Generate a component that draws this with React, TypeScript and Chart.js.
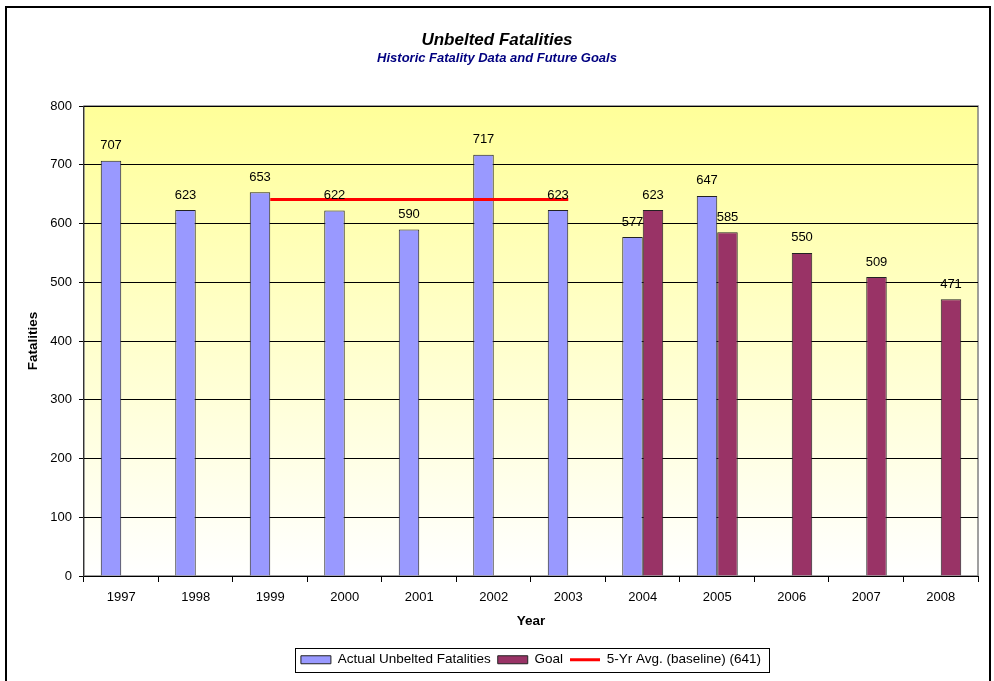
import React, { useEffect, useRef } from "react";
import Chart from "chart.js/auto";

const years = ["1997", "1998", "1999", "2000", "2001", "2002", "2003", "2004", "2005", "2006", "2007", "2008"];
const actualFatalities = [707, 623, 653, 622, 590, 717, 623, 577, 647, null, null, null];
const goalFatalities = [null, null, null, null, null, null, null, 623, 585, 550, 509, 471];
const baselineAvg = [null, null, 641, 641, 641, 641, 641, null, null, null, null, null];
const seriesNames = ["Actual Unbelted Fatalities", "Goal", "5-Yr Avg. (baseline) (641)"];
const yMin = 0;
const yMax = 800;
const yStep = 100;
const titleText = "Unbelted Fatalities";
const subtitleText = "Historic Fatality Data and Future Goals";
const xTitle = "Year";
const yTitle = "Fatalities";

const FONT = '"Liberation Sans", Arial, sans-serif';

const backgroundPlugin = {
  id: "bgPlugin",
  beforeDraw(chart: any) {
    const { ctx, chartArea } = chart;
    const { left, top, right, bottom } = chartArea;
    ctx.save();
    ctx.fillStyle = "#ffffff";
    ctx.fillRect(0, 0, chart.width, chart.height);
    ctx.strokeStyle = "#000000";
    ctx.lineWidth = 2;
    ctx.strokeRect(6, 7, 984, 720);
    const g = ctx.createLinearGradient(0, top, 0, bottom);
    g.addColorStop(0, "#FFFF99");
    g.addColorStop(1, "#FFFFFF");
    ctx.fillStyle = g;
    ctx.fillRect(left, top, right - left, bottom - top);
    ctx.strokeStyle = "#808080";
    ctx.lineWidth = 1.5;
    ctx.strokeRect(left, top, right - left, bottom - top);
    ctx.restore();
  },
};

const valueLabelPlugin = {
  id: "valueLabels",
  afterDatasetsDraw(chart: any) {
    const { ctx } = chart;
    ctx.save();
    ctx.font = `13px ${FONT}`;
    ctx.fillStyle = "#000";
    ctx.textAlign = "center";
    ctx.textBaseline = "middle";
    chart.data.datasets.forEach((ds: any, i: number) => {
      if (ds.type === "line") return;
      const meta = chart.getDatasetMeta(i);
      meta.data.forEach((el: any, j: number) => {
        const v = ds.data[j];
        if (v === null || v === undefined) return;
        ctx.fillText(String(v), el.x, el.y - 15);
      });
    });
    ctx.restore();
  },
};

const legendFramePlugin = {
  id: "legendFrame",
  afterDraw(chart: any) {
    const lg = chart.legend;
    if (!lg || !lg.legendHitBoxes || !lg.legendHitBoxes.length) return;
    const hb = lg.legendHitBoxes;
    const l = Math.min(...hb.map((h: any) => h.left));
    const r = Math.max(...hb.map((h: any) => h.left + h.width));
    const cy = hb[0].top + hb[0].height / 2;
    const { ctx } = chart;
    ctx.save();
    ctx.strokeStyle = "#000";
    ctx.lineWidth = 1;
    ctx.strokeRect(Math.round(l - 6) + 0.5, Math.round(cy - 12) + 0.5, Math.round(r - l + 14), 24);
    ctx.restore();
  },
};

export default function App() {
  const ref = useRef<HTMLCanvasElement | null>(null);

  useEffect(() => {
    document.body.style.margin = "0";
    if (!ref.current) return;
    const chart = new Chart(ref.current, {
      type: "bar",
      data: {
        labels: years,
        datasets: [
          {
            type: "bar",
            label: seriesNames[0],
            data: actualFatalities,
            backgroundColor: "#9999FF",
            borderColor: "#222222",
            borderWidth: 1,
            order: 0,
          },
          {
            type: "bar",
            label: seriesNames[1],
            data: goalFatalities,
            backgroundColor: "#993366",
            borderColor: "#222222",
            borderWidth: 1,
            order: 0,
          },
          {
            type: "line",
            label: seriesNames[2],
            data: baselineAvg,
            borderColor: "#FF0000",
            backgroundColor: "#FF0000",
            borderWidth: 3,
            pointRadius: 0,
            fill: false,
            spanGaps: false,
            order: -1,
          },
        ] as any,
      },
      options: {
        responsive: false,
        animation: false,
        events: [],
        datasets: {
          bar: { categoryPercentage: 0.55, barPercentage: 1 },
        } as any,
        layout: { padding: { left: 16, right: 16, top: 0, bottom: 4.5 } },
        plugins: {
          title: {
            display: true,
            text: titleText,
            color: "#000",
            font: { family: FONT, size: 17, weight: "bold", style: "italic" },
            padding: { top: 29.8, bottom: 0 },
          },
          subtitle: {
            display: true,
            text: subtitleText,
            color: "#000080",
            font: { family: FONT, size: 13, weight: "bold", style: "italic" },
            padding: { top: 0, bottom: 40.2 },
          },
          legend: {
            display: true,
            position: "bottom",
            fullSize: false,
            labels: {
              color: "#000",
              font: { family: FONT, size: 13.5 },
              usePointStyle: true,
              pointStyleWidth: 30,
              boxHeight: 8,
              padding: 7,
              generateLabels: (c: any) => {
                const items = (Chart as any).defaults.plugins.legend.labels.generateLabels(c);
                items.sort((a: any, b: any) => a.datasetIndex - b.datasetIndex);
                items.forEach((it: any) => {
                  if (it.datasetIndex === 2) {
                    it.pointStyle = "line";
                    it.strokeStyle = "#FF0000";
                    it.lineWidth = 3;
                  } else {
                    it.pointStyle = "rect";
                    it.strokeStyle = "#222222";
                    it.lineWidth = 1;
                  }
                });
                return items;
              },
            },
          },
          tooltip: { enabled: false },
        },
        scales: {
          x: {
            grid: {
              display: true,
              drawOnChartArea: false,
              drawTicks: true,
              tickLength: 6,
              color: "#000",
              offset: true,
            },
            border: { color: "#000", width: 1 },
            ticks: { color: "#000", font: { family: FONT, size: 13 }, padding: 8 },
            title: {
              display: true,
              text: xTitle,
              color: "#000",
              font: { family: FONT, size: 13.5, weight: "bold" },
              padding: { top: 0, bottom: 16.2 },
            },
          },
          y: {
            min: yMin,
            max: yMax,
            grid: { color: "#000", lineWidth: 1, tickLength: 5, drawTicks: true },
            border: { color: "#333", width: 1 },
            ticks: { stepSize: yStep, color: "#000", font: { family: FONT, size: 13 }, padding: 7 },
            title: {
              display: true,
              text: yTitle,
              color: "#000",
              font: { family: FONT, size: 13.5, weight: "bold" },
              padding: { top: 8.9, bottom: 2.2 },
            },
          },
        },
      },
      plugins: [backgroundPlugin, valueLabelPlugin, legendFramePlugin],
    } as any);
    return () => chart.destroy();
  }, []);

  return (
    <div style={{ width: 994, height: 681, overflow: "hidden" }}>
      <canvas ref={ref} width={994} height={681} style={{ display: "block" }} />
    </div>
  );
}
